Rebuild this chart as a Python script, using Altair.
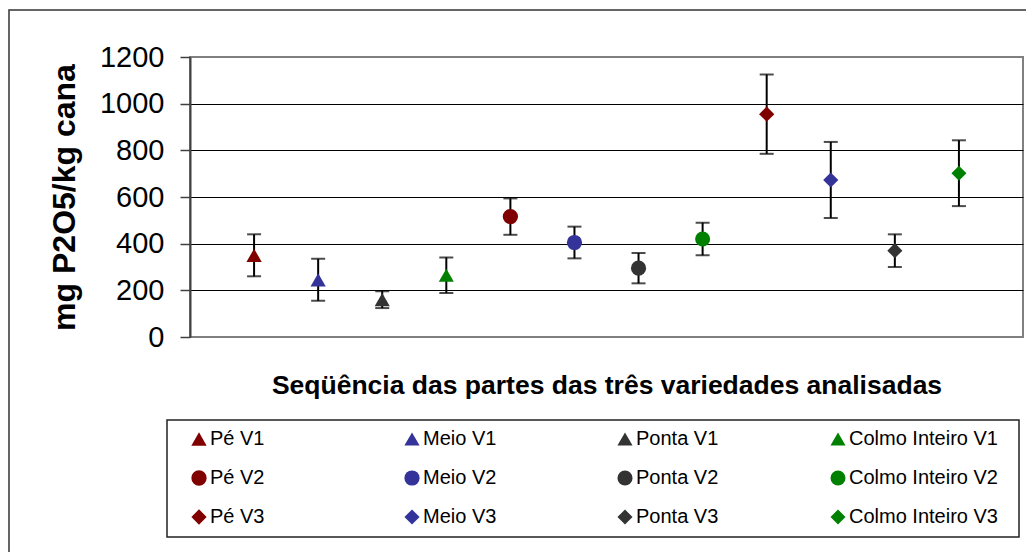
import altair as alt
import pandas as pd

# Sequence of cane parts for the three varieties
labels = [
    "Pé V1", "Meio V1", "Ponta V1", "Colmo Inteiro V1",
    "Pé V2", "Meio V2", "Ponta V2", "Colmo Inteiro V2",
    "Pé V3", "Meio V3", "Ponta V3", "Colmo Inteiro V3",
]
# mean content (mg P2O5/kg cana) and error bar half-width
means = [350, 245, 160, 265, 516, 405, 295, 420, 955, 673, 370, 702]
errors = [90, 90, 36, 76, 78, 68, 65, 70, 170, 163, 70, 141]

parts = ["Pé", "Meio", "Ponta", "Colmo Inteiro"]
varieties = ["V1", "V2", "V3"]
part_colors = {"Pé": "#800000", "Meio": "#333399", "Ponta": "#333333", "Colmo Inteiro": "#008000"}
variety_shapes = {"V1": "triangle-up", "V2": "circle", "V3": "diamond"}
variety_sizes = {"V1": 235, "V2": 225, "V3": 250}
y_ticks = [0, 200, 400, 600, 800, 1000, 1200]

df = pd.DataFrame({"serie": labels, "valor": means, "erro": errors})
df["lo"] = df["valor"] - df["erro"]
df["hi"] = df["valor"] + df["erro"]

# legend entries fill column by column: one column per part, one row per variety
legend_order = [f"{p} {v}" for p in parts for v in varieties]
colors = [part_colors[s.rsplit(" ", 1)[0]] for s in legend_order]
shapes = [variety_shapes[s.rsplit(" ", 1)[1]] for s in legend_order]
sizes = [variety_sizes[s.rsplit(" ", 1)[1]] for s in legend_order]

FONT = "Liberation Sans"

x_enc = alt.X(
    "serie:N",
    sort=labels,
    scale=alt.Scale(type="point", padding=1),
    axis=alt.Axis(
        labels=False, ticks=False, domain=False, grid=False,
        title="Seqüência das partes das três variedades analisadas",
        titleFont=FONT, titleFontSize=26.5, titleFontWeight="bold", titleColor="black",
        titleBaseline="alphabetic", titleY=56,
    ),
)

y_axis = alt.Axis(
    values=y_ticks, format="d",
    title="mg P2O5/kg cana",
    titleFont=FONT, titleFontSize=32, titleFontWeight="bold", titleColor="black",
    titleAngle=-90, titleBaseline="alphabetic", titleX=-116, titleY=140, titleAlign="center",
    labelFont=FONT, labelFontSize=29, labelColor="black", labelPadding=16,
    tickSize=10, tickColor="#404040", tickWidth=1.5,
    domainColor="#404040", domainWidth=2,
    grid=True, gridWidth=1,
    gridColor=alt.condition("datum.value == 0 || datum.value == 1200", alt.value("#808080"), alt.value("black")),
)
y_scale = alt.Scale(domain=[0, 1200], nice=False)

legend = alt.Legend(
    title=None, orient="none", legendX=-1, legendY=372,
    columns=4, gridAlign="all", columnPadding=43, rowPadding=19,
    labelFont=FONT, labelFontSize=20, labelColor="black", labelLimit=300, labelOffset=1,
    symbolSize=210, symbolStrokeWidth=0, padding=0,
)

base = alt.Chart(df)

# outer frame of the figure and the legend box
frame = alt.Chart(alt.Data(values=[{}])).mark_rect(
    fill="transparent", stroke="#333333", strokeWidth=1.5
).encode(x=alt.value(-181), x2=alt.value(850), y=alt.value(-47), y2=alt.value(503))

legend_box = alt.Chart(alt.Data(values=[{}])).mark_rect(
    fill="transparent", stroke="#222222", strokeWidth=1.5
).encode(x=alt.value(-23), x2=alt.value(829), y=alt.value(363), y2=alt.value(480))

bars = base.mark_rule(color="black", strokeWidth=2).encode(
    x=x_enc,
    y=alt.Y("lo:Q", scale=y_scale, axis=y_axis),
    y2="hi:Q",
)
caps_lo = base.mark_tick(orient="horizontal", color="black", size=14, thickness=2).encode(
    x=x_enc, y=alt.Y("lo:Q", scale=y_scale, axis=y_axis)
)
caps_hi = base.mark_tick(orient="horizontal", color="black", size=14, thickness=2).encode(
    x=x_enc, y=alt.Y("hi:Q", scale=y_scale, axis=y_axis)
)
points = base.mark_point(filled=True, opacity=1, strokeWidth=0).encode(
    x=x_enc,
    y=alt.Y("valor:Q", scale=y_scale, axis=y_axis),
    color=alt.Color("serie:N", scale=alt.Scale(domain=legend_order, range=colors), legend=legend),
    shape=alt.Shape("serie:N", scale=alt.Scale(domain=legend_order, range=shapes), legend=legend),
    size=alt.Size("serie:N", scale=alt.Scale(domain=legend_order, range=sizes), legend=None),
)

chart = alt.layer(frame, legend_box, bars, caps_lo, caps_hi, points).properties(
    width=833,
    height=280,
    autosize=alt.AutoSizeParams(type="none"),
    padding={"left": 190, "top": 57, "right": 3, "bottom": 215},
    background="white",
).configure_view(
    stroke="#808080", strokeWidth=2
)

chart.save("out.html", embed_options={"renderer": "svg", "actions": False})
